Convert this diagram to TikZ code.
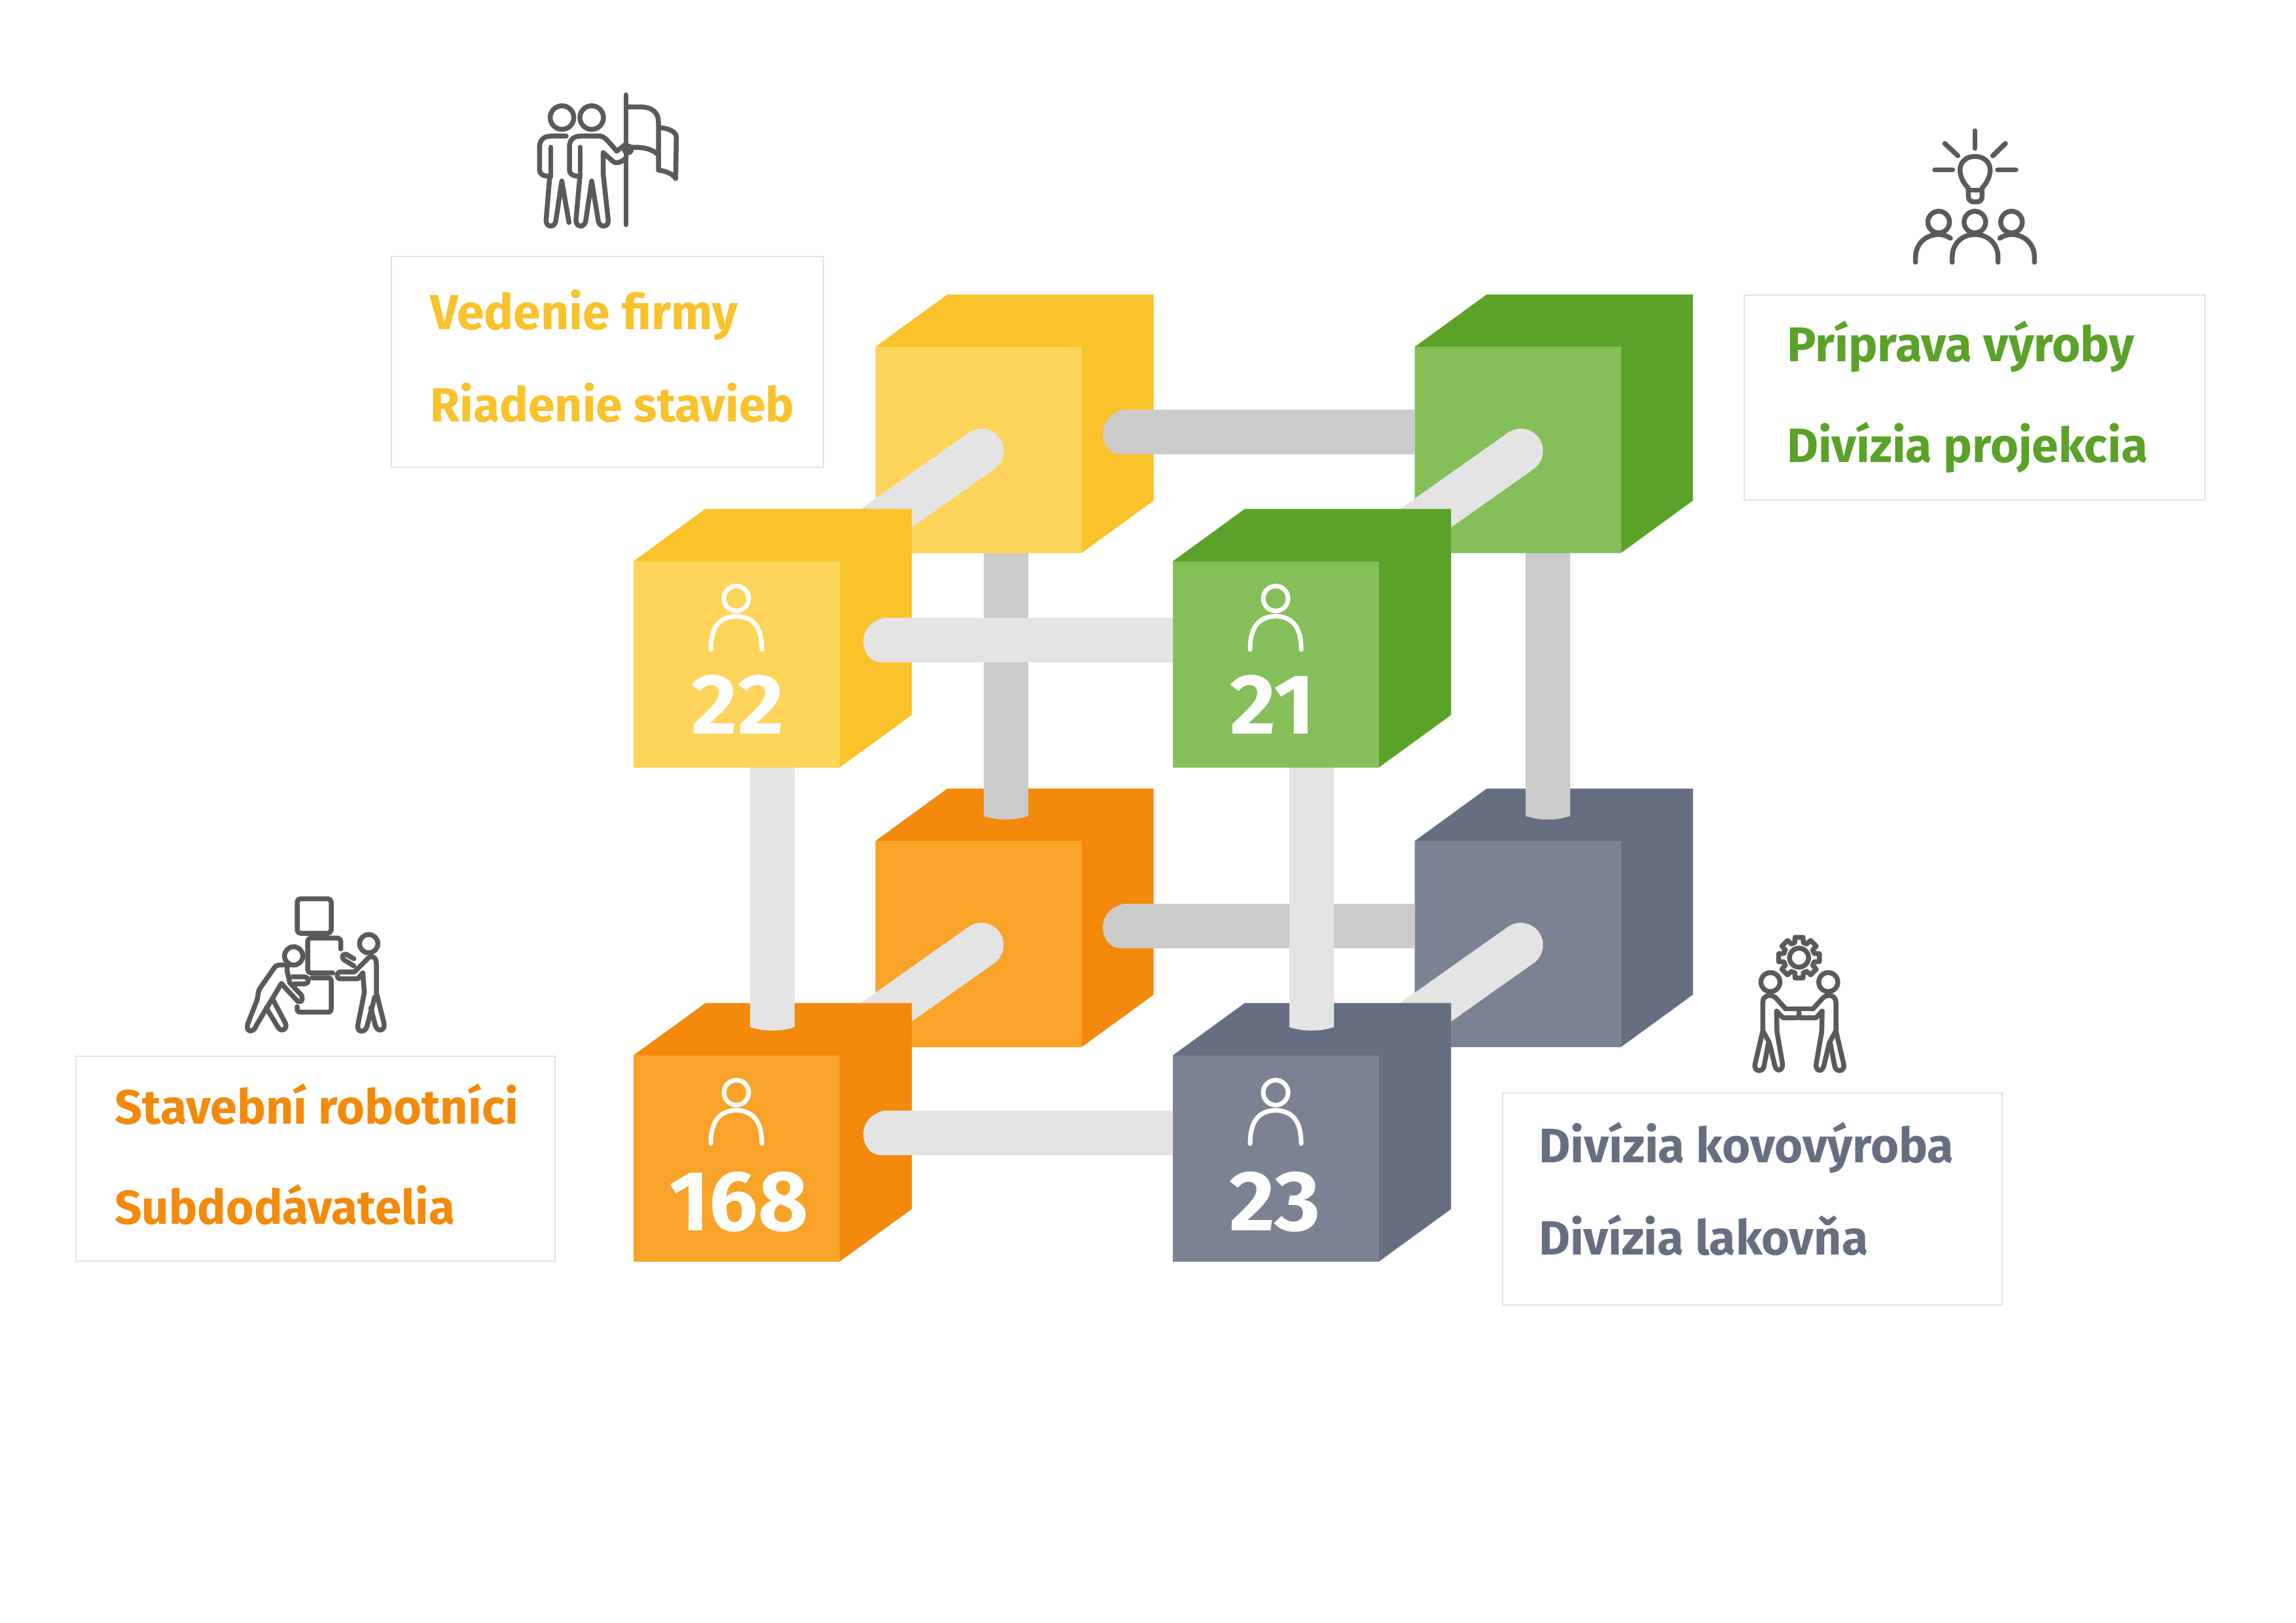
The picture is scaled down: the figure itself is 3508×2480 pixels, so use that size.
\documentclass[tikz,border=0pt]{standalone}
\usepackage{graphicx}
\usepackage{fontspec}
\setmainfont{Fira Sans}
\definecolor{ySide}{HTML}{FAC22B}\definecolor{yFront}{HTML}{FED55A}
\definecolor{gSide}{HTML}{5AA228}\definecolor{gFront}{HTML}{84BF5A}
\definecolor{oSide}{HTML}{F38A0B}\definecolor{oFront}{HTML}{F9A329}
\definecolor{sSide}{HTML}{666F82}\definecolor{sFront}{HTML}{7A8294}
\definecolor{barLight}{HTML}{E4E4E4}\definecolor{barDark}{HTML}{CBCBCB}
\definecolor{iconGray}{HTML}{5A5A5A}\definecolor{boxLine}{HTML}{E2E2E2}
\newcommand\fitw[2]{\resizebox{#1pt}{!}{#2}}
% cube: x, y (front top-left), side colour, front colour
\newcommand\cubebox[4]{%
  \fill[#3] (#1,#2) -- ++(110,-80) -- ++(315,0) -- ++(0,315) -- ++(-110,80) -- ++(-315,0) -- cycle;
  \fill[#4] (#1,#2) rectangle ++(315,315);
}
% horizontal bar: left x, centre y, right x, colour
\newcommand\hbarpiece[4]{%
  \fill[#4] (#3,#2-34) -- (#1+31,#2-34) .. controls (#1+10,#2-28) and (#1,#2-14) .. (#1,#2+2)
    .. controls (#1,#2+20) and (#1+12,#2+34) .. (#1+26,#2+34) -- (#3,#2+34) -- cycle;
}
% vertical bar: left x, top y, bottom y at edge, colour
\newcommand\vbarpiece[4]{%
  \fill[#4] (#1,#2) -- (#1+68,#2) -- (#1+68,#3) .. controls (#1+46,#3+7) and (#1+22,#3+7) .. (#1,#3) -- cycle;
}
% depth bar: x, y offset from the top-left back block
\newcommand\dbarpiece[2]{%
  \draw[barLight,line width=68pt,line cap=round] (#1+1499.5,#2+689) -- (#1+1300,#2+830);
}
% person icon and number: cube x, cube y, text, width, number centre x, name, baseline y
\newcommand\personnum[7]{%
  \draw[white,line width=7pt,line cap=round] (#1+157,#2+57) ellipse [x radius=19pt,y radius=19pt];
  \draw[white,line width=7pt,line cap=round] (#1+118,#2+135) .. controls (#1+118,#2+102) and (#1+130,#2+85) .. (#1+157,#2+84)
    .. controls (#1+184,#2+85) and (#1+196,#2+102) .. (#1+196,#2+135);
  \node (#6) [numtext] at (#5,#7) {\resizebox{#4pt}{90pt}{#3}};
}
\tikzset{
  boxframe/.style={draw=boxLine,line width=1.6pt,fill=white},
  lbl/.style={inner sep=0pt,anchor=base west,font=\fontsize{70pt}{80pt}\selectfont\bfseries},
  numtext/.style={inner sep=0pt,anchor=base,text=white,font=\fontsize{128pt}{130pt}\selectfont\bfseries},
  iconline/.style={draw=iconGray,line width=7.5pt,line cap=round,line join=round},
  zoomed/.style={x=0.33333pt,y=-0.33333pt},
}
\begin{document}
\begin{tikzpicture}[x=1pt,y=-1pt]
\useasboundingbox (0,0) rectangle (3508,2480);
\fill[white] (0,0) rectangle (3508,2480);
% back layer
\cubebox{1337.5}{1285}{oSide}{oFront}
\cubebox{2161.5}{1285}{sSide}{sFront}
\vbarpiece{1503}{840}{1247}{barDark}
\vbarpiece{2331}{840}{1247}{barDark}
\cubebox{1337.5}{530}{ySide}{yFront}
\cubebox{2161.5}{530}{gSide}{gFront}
\hbarpiece{1685}{660}{2161.5}{barDark}
\hbarpiece{1685}{1415}{2161.5}{barDark}
\dbarpiece{0}{0}
\dbarpiece{824}{0}
\dbarpiece{0}{755}
\dbarpiece{824}{755}
% front layer
\cubebox{968}{1612.5}{oSide}{oFront}
\cubebox{1792}{1612.5}{sSide}{sFront}
\vbarpiece{1146}{1150}{1569.5}{barLight}
\vbarpiece{1970}{1150}{1569.5}{barLight}
\cubebox{968}{857.5}{ySide}{yFront}
\cubebox{1792}{857.5}{gSide}{gFront}
\hbarpiece{1319}{978}{1792}{barLight}
\hbarpiece{1319}{1731}{1792}{barLight}
\personnum{968}{857.5}{22}{141}{1127}{n22}{1121}
\personnum{1792}{857.5}{21}{130}{1944}{n21}{1121}
\personnum{968}{1612.5}{168}{213}{1128.5}{n168}{1880}
\personnum{1792}{1612.5}{23}{139}{1948}{n23}{1880}
% label boxes
\draw[boxframe] (598,392) rectangle (1258,714);
\draw[boxframe] (2665,451) rectangle (3369,764);
\draw[boxframe] (116,1614) rectangle (848,1927);
\draw[boxframe] (2296,1670) rectangle (3059,1994);
\node (a1) [lbl,text=ySide] at (657,503) {\fitw{470}{Vedenie firmy}};
\node (a2) [lbl,text=ySide] at (657,644) {\fitw{556}{Riadenie stavieb}};
\node (b1) [lbl,text=gSide] at (2730,552) {\fitw{531}{Príprava výroby}};
\node (b2) [lbl,text=gSide] at (2730,706) {\fitw{551}{Divízia projekcia}};
\node (c1) [lbl,text=oSide] at (175,1717) {\fitw{617}{Stavební robotníci}};
\node (c2) [lbl,text=oSide] at (175,1870) {\fitw{520}{Subdodávatelia}};
\node (d1) [lbl,text=sSide] at (2351,1776) {\fitw{634}{Divízia kovovýroba}};
\node (d2) [lbl,text=sSide] at (2351,1917) {\fitw{503}{Divízia lakovňa}};
% flag icon
\begin{scope}[shift={(780,120)},zoomed,iconline]
\draw (236,179) circle[radius=18pt];
\draw (372,179) circle[radius=18pt];
\draw (255,264) -- (185,264) .. controls (150,264) and (133,285) .. (133,315) -- (133,420) .. controls (133,438) and (150,448) .. (180,448)
  -- (163,650) .. controls (163,685) and (205,685) .. (208,650) -- (235,470) -- (268,660);
\draw (185,315) -- (185,450);
\draw (410,264) -- (320,264) .. controls (285,264) and (270,285) .. (270,315) -- (270,420) .. controls (270,438) and (287,448) .. (318,448)
  -- (300,650) .. controls (300,685) and (342,685) .. (345,650) -- (372,470) -- (402,650) .. controls (405,685) and (450,685) .. (448,650)
  -- (425,440) -- (425,340) -- (470,380) .. controls (490,395) and (510,380) .. (530,365);
\draw (320,315) -- (320,450);
\draw (410,264) .. controls (430,264) and (445,285) .. (487,333) -- (530,300);
\draw (529,75) -- (529,670);
\fill[iconGray] (538,325) circle[radius=9pt];
\draw (540,130) -- (590,130) .. controls (650,130) and (678,155) .. (678,200) -- (678,420) .. controls (720,425) and (745,440) .. (757,458);
\draw (560,315) .. controls (620,315) and (650,325) .. (678,350);
\draw (685,225) .. controls (730,230) and (760,245) .. (760,270) -- (757,458);
\end{scope}
% bulb icon
\begin{scope}[shift={(2900,180)},zoomed,iconline]
\draw (352,60) -- (352,140);
\draw (214,118) -- (274,174);
\draw (492,118) -- (434,174);
\draw (168,239) -- (250,239);
\draw (456,239) -- (540,239);
\draw (322,322) .. controls (300,300) and (284,270) .. (284,240) .. controls (284,200) and (315,177) .. (352,177)
  .. controls (390,177) and (422,200) .. (422,240) .. controls (422,270) and (405,300) .. (385,322);
\draw (322,332) -- (385,332);
\draw (322,322) -- (322,360) .. controls (322,378) and (335,385) .. (345,385) -- (362,385) .. controls (375,385) and (385,378) .. (385,360) -- (385,322);
\draw (186,478) circle[radius=16.5pt];
\draw (352,478) circle[radius=16.5pt];
\draw (520,478) circle[radius=16.5pt];
\draw (248,662) -- (248,640) .. controls (248,575) and (295,535) .. (352,535) .. controls (410,535) and (458,575) .. (458,640) -- (458,662);
\draw (80,662) -- (80,640) .. controls (80,575) and (130,535) .. (186,535) .. controls (205,535) and (225,542) .. (240,552);
\draw (625,662) -- (625,640) .. controls (625,575) and (575,535) .. (520,535) .. controls (500,535) and (482,542) .. (466,552);
\end{scope}
% workers icon
\begin{scope}[shift={(350,1350)},zoomed,iconline]
\draw[rounded corners=5pt] (312,70) rectangle (468,228);
\draw[rounded corners=5pt] (512,300) -- (512,250) -- (360,250) -- (360,410) -- (475,410);
\draw[rounded corners=4pt] (380,432) -- (468,432) -- (468,590) -- (312,590) -- (312,565);
\draw (296,332) circle[radius=14pt];
\draw[rounded corners=4pt] (265,395) -- (270,372) -- (215,375) -- (135,490) -- (130,530) -- (85,645);
\draw (85,645) .. controls (75,685) and (115,685) .. (125,650) -- (240,458) -- (268,490) -- (315,540) .. controls (340,550) and (340,515) .. (325,505) -- (278,455) -- (265,395);
\draw (170,570) -- (225,660) .. controls (240,685) and (270,665) .. (258,640) -- (200,530);
\draw (290,428) -- (345,428) .. controls (370,432) and (370,458) .. (345,460) -- (298,460);
\draw (640,276) circle[radius=14pt];
\draw (650,335) .. controls (670,335) and (675,350) .. (675,370) -- (675,500) -- (710,640) .. controls (718,675) and (680,685) .. (670,650) -- (650,570);
\draw (613,410) -- (620,500) -- (590,650) .. controls (585,685) and (625,685) .. (632,655) -- (668,520);
\draw (640,340) -- (575,405) -- (510,405) .. controls (490,410) and (490,435) .. (510,437) -- (590,437) -- (613,410);
\draw (572,345) -- (538,325) .. controls (515,320) and (515,345) .. (530,352) -- (572,378);
\end{scope}
% handshake and gear icon
\begin{scope}[shift={(2660,1420)},zoomed,iconline]
\begin{scope}[shift={(266,130)}]
\draw (0,0) circle[radius=14.5pt];
\draw (-11:95) \foreach \a in {0,45,...,315} {-- (\a-11:95) -- (\a+11:95) -- (\a+16:72) -- (\a+29:72)} -- cycle;
\end{scope}
\draw (135,242) circle[radius=14.5pt];
\draw (400,242) circle[radius=14.5pt];
\draw (205,365) -- (160,315) .. controls (140,295) and (100,300) .. (100,335) -- (100,465) -- (65,615) .. controls (55,650) and (95,660) .. (105,630) -- (125,525);
\draw (100,465) -- (130,520) -- (155,625) .. controls (165,660) and (195,645) .. (190,615) -- (165,470) -- (163,375) -- (192,405) -- (258,405);
\draw (205,365) -- (330,365);
\draw (266,370) -- (266,405) -- (345,405) -- (372,375) -- (370,470) -- (345,615) .. controls (340,650) and (370,660) .. (380,625) -- (405,520) -- (435,465);
\draw (330,365) -- (375,315) .. controls (395,295) and (435,300) .. (435,335) -- (435,465) -- (470,615) .. controls (480,650) and (440,660) .. (430,630) -- (410,525);
\end{scope}
\end{tikzpicture}
\end{document}
